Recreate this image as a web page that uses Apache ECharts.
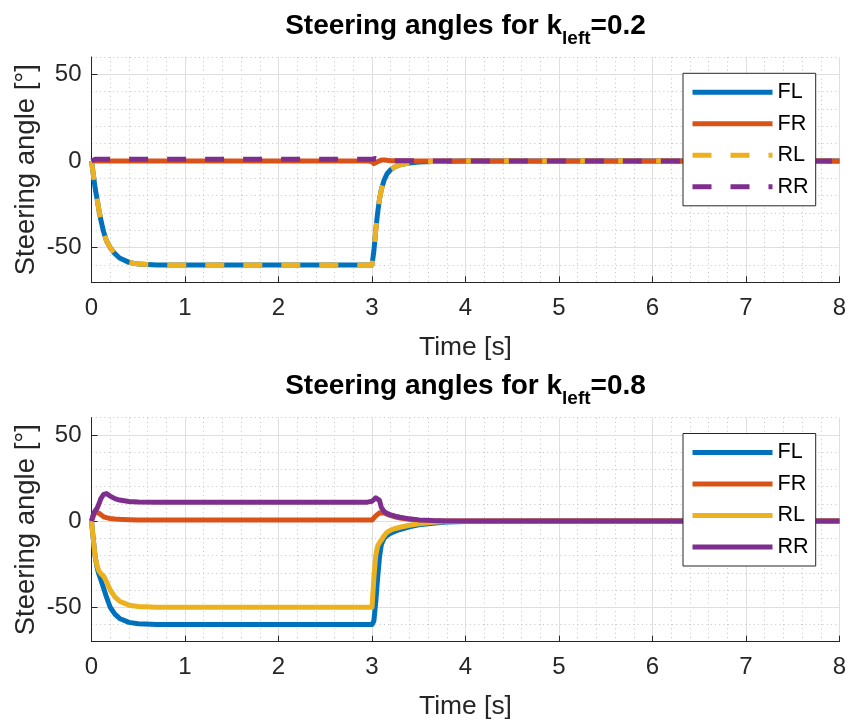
<!DOCTYPE html>
<html>
<head>
<meta charset="utf-8">
<script src="https://cdn.jsdelivr.net/npm/echarts@6/dist/echarts.min.js"></script>
<style>
html,body{margin:0;padding:0;background:#fff;}
#chart{width:847px;height:719px;}
</style>
</head>
<body>
<div id="chart"></div>
<script>
// ---- data ----
const seriesNames = ['FL', 'FR', 'RL', 'RR'];
const titles = ['0.2', '0.8'];
const xTicks = [0, 1, 2, 3, 4, 5, 6, 7, 8];
const yTicks = [-50, 0, 50];

const T = [0, 0.02, 0.04, 0.06, 0.08, 0.1, 0.13, 0.16, 0.2, 0.25, 0.3, 0.4, 0.5, 0.7, 1, 2, 2.95,
           3, 3.02, 3.04, 3.06, 3.08, 3.1, 3.13, 3.16, 3.2, 3.25, 3.3,
           3.4, 3.5, 3.65, 3.8, 4, 5, 6, 7, 8];

// k_left = 0.2
const topFL = [0, -8, -16, -22, -28.5, -34, -41, -46, -50, -53.5, -56, -58.5, -59.5, -60, -60, -60, -60,
               -60, -52, -40, -30, -22, -16.5, -11, -7.5, -5, -3.3, -2.2,
               -1.1, -0.6, -0.3, -0.15, -0.05, 0, 0, 0, 0];
const topFR = [0, 0, 0, 0, 0, 0, 0, 0, 0, 0, 0, 0, 0, 0, 0, 0, 0,
               -0.3, -1.5, -1.2, -0.4, 0.2, 0.5, 0.6, 0.4, 0.2, 0.1, 0,
               0, 0, 0, 0, 0, 0, 0, 0, 0];
const topRL = [0, -8, -16, -22, -28.5, -34, -41, -46, -50, -53.5, -56, -58.5, -59.5, -60, -60, -60, -60,
               -60, -52, -40, -30, -22, -16.5, -11, -7.5, -5, -3.3, -2.2,
               -1.1, -0.6, -0.3, -0.15, -0.05, 0, 0, 0, 0];
const topRR = [0, 0.8, 1, 1, 1, 1, 1, 1, 1, 1, 1, 1, 1, 1, 1, 1, 1,
               1, 1.3, 1.4, 1.1, 0.8, 0.6, 0.5, 0.4, 0.3, 0.2, 0.15,
               0.1, 0.05, 0, 0, 0, 0, 0, 0, 0];

// k_left = 0.8
const botFL = [0, -11, -21, -27, -31, -34, -39, -44, -50, -54, -56.5, -58.8, -59.6, -60, -60, -60, -60,
               -60, -58, -47, -33, -21, -13.5, -10, -8.4, -7, -5.9, -4.9,
               -3.3, -2.2, -1.2, -0.6, -0.2, 0, 0, 0, 0];
const botFR = [0, 3, 5.5, 5.5, 4.5, 3.5, 2.5, 2, 1.5, 1.2, 1, 0.8, 0.7, 0.6, 0.6, 0.6, 0.6,
               0.6, 1.5, 3, 4, 4.8, 5, 4.7, 4, 3.2, 2.4, 1.8,
               1, 0.5, 0.2, 0.1, 0, 0, 0, 0, 0];
const botRL = [0, -11, -21, -26, -29, -30.5, -32, -35, -40, -44, -46.5, -48.8, -49.6, -50, -50, -50, -50,
               -50, -33, -20, -14.5, -12.5, -11, -8.5, -6.5, -5.2, -4.3, -3.6,
               -2.4, -1.5, -0.7, -0.3, -0.1, 0, 0, 0, 0];
const botRR = [0, 4, 6, 7.5, 10, 13, 15.5, 16, 14.5, 13, 12.2, 11.4, 11.1, 11, 11, 11, 11,
               11.5, 12.5, 13.5, 13.8, 12, 8, 5.5, 4.5, 3.6, 2.8, 2.2,
               1.3, 0.7, 0.3, 0.1, 0, 0, 0, 0, 0];

const plotData = [
  [topFL, topFR, topRL, topRR],
  [botFL, botFR, botRL, botRR]
];
const dashed = [
  [false, false, true, true],
  [false, false, false, false]
];

// ---- style ----
const FONT = "'Liberation Sans', Arial, Helvetica, sans-serif";
const colors = ['#0072BD', '#D95319', '#EDB120', '#7E2F8E'];
const axisColor = '#262626';
const majorGrid = '#dfdfdf';
const minorGrid = '#c4c4c4';
const LW = 5;

const grids = [
  { left: 91.5, right: 7.5, top: 57, height: 225.3 },
  { left: 91.5, right: 7.5, top: 417.7, height: 224 }
];
const legendTops = [73.3, 433.5];
const titleTops = [18.5, 378.5];

const option = {
  animation: false,
  backgroundColor: '#fff',
  title: [], grid: [], xAxis: [], yAxis: [], legend: [], series: []
};

grids.forEach((g, gi) => {
  option.grid.push(Object.assign({ outerBoundsMode: 'none', containLabel: false }, g));

  option.title.push({
    text: '{m|Steering angles for k}{s|left}{m|=' + titles[gi] + '}',
    left: 465.5, top: titleTops[gi], textAlign: 'center', textVerticalAlign: 'top', padding: 0,
    textStyle: {
      rich: {
        m: { fontSize: 28, fontWeight: 'bold', fontFamily: FONT, color: '#000', lineHeight: 30, padding: [0, 0, 8, 0], verticalAlign: 'bottom' },
        s: { fontSize: 19, fontWeight: 'bold', fontFamily: FONT, color: '#000', lineHeight: 20, verticalAlign: 'bottom' }
      }
    }
  });

  option.xAxis.push({
    type: 'value', gridIndex: gi, min: 0, max: 8, interval: 1, z: 1,
    axisLine: { show: true, onZero: false, lineStyle: { color: axisColor, width: 1 } },
    axisTick: { show: true, inside: true, length: 6, lineStyle: { color: axisColor } },
    axisLabel: { fontSize: 24, color: axisColor, margin: 14, fontFamily: FONT,
                 customValues: xTicks },
    splitLine: { show: true, lineStyle: { color: majorGrid, width: 1 } },
    minorTick: { show: false, splitNumber: 5 },
    minorSplitLine: { show: true, lineStyle: { color: minorGrid, width: 1, type: [1, 3.3] } },
    name: 'Time [s]', nameLocation: 'middle', nameGap: 52, nameMoveOverlap: false,
    nameTextStyle: { fontSize: 26.4, color: axisColor, fontFamily: FONT }
  });

  // major y axis
  option.yAxis.push({
    type: 'value', gridIndex: gi, min: -70, max: 60, position: 'left', z: 2,
    axisLine: { show: true, lineStyle: { color: axisColor, width: 1 } },
    axisTick: { show: true, inside: true, length: 6, lineStyle: { color: axisColor }, customValues: yTicks },
    axisLabel: { fontSize: 24, color: axisColor, margin: 10, fontFamily: FONT, customValues: yTicks },
    splitLine: { show: true, lineStyle: { color: majorGrid, width: 1 } },
    name: 'Steering angle [°]', nameLocation: 'middle', nameGap: 51, nameMoveOverlap: false,
    nameTextStyle: { fontSize: 27.5, color: axisColor, fontFamily: FONT }
  });
  // minor y axis (dotted grid only)
  option.yAxis.push({
    type: 'value', gridIndex: gi, min: -70, max: 60, interval: 10, position: 'right', z: 0,
    axisLine: { show: false }, axisTick: { show: false }, axisLabel: { show: false },
    splitLine: { show: true, lineStyle: { color: minorGrid, width: 1, type: [1, 3.3] } }
  });

  const suffix = gi === 0 ? '' : ' ';
  option.legend.push({
    show: true, orient: 'vertical', left: 683, top: legendTops[gi],
    data: seriesNames.map(n => n + suffix),
    formatter: n => n.trim(),
    itemWidth: 80, itemHeight: 14, itemGap: 9.5,
    padding: [8, 7, 8, 7],
    backgroundColor: '#fff', borderColor: axisColor, borderWidth: 1, borderRadius: 0,
    itemStyle: { opacity: 0, borderWidth: 0 },
    lineStyle: { width: LW, cap: 'butt' },
    textStyle: { fontSize: 21.6, color: '#000', fontFamily: FONT },
    selectedMode: false, z: 5
  });

  seriesNames.forEach((n, si) => {
    option.series.push({
      name: n + suffix, type: 'line', xAxisIndex: gi, yAxisIndex: gi * 2,
      data: T.map((t, i) => [t, plotData[gi][si][i]]),
      showSymbol: false, symbol: 'none', smooth: false, z: 3,
      color: colors[si],
      lineStyle: { color: colors[si], width: LW, type: dashed[gi][si] ? [19, 19] : 'solid', cap: 'butt', join: 'round' },
      emphasis: { disabled: true }
    });
  });
});

const chart = echarts.init(document.getElementById('chart'), null, { renderer: 'canvas' });
chart.setOption(option);
</script>
</body>
</html>
